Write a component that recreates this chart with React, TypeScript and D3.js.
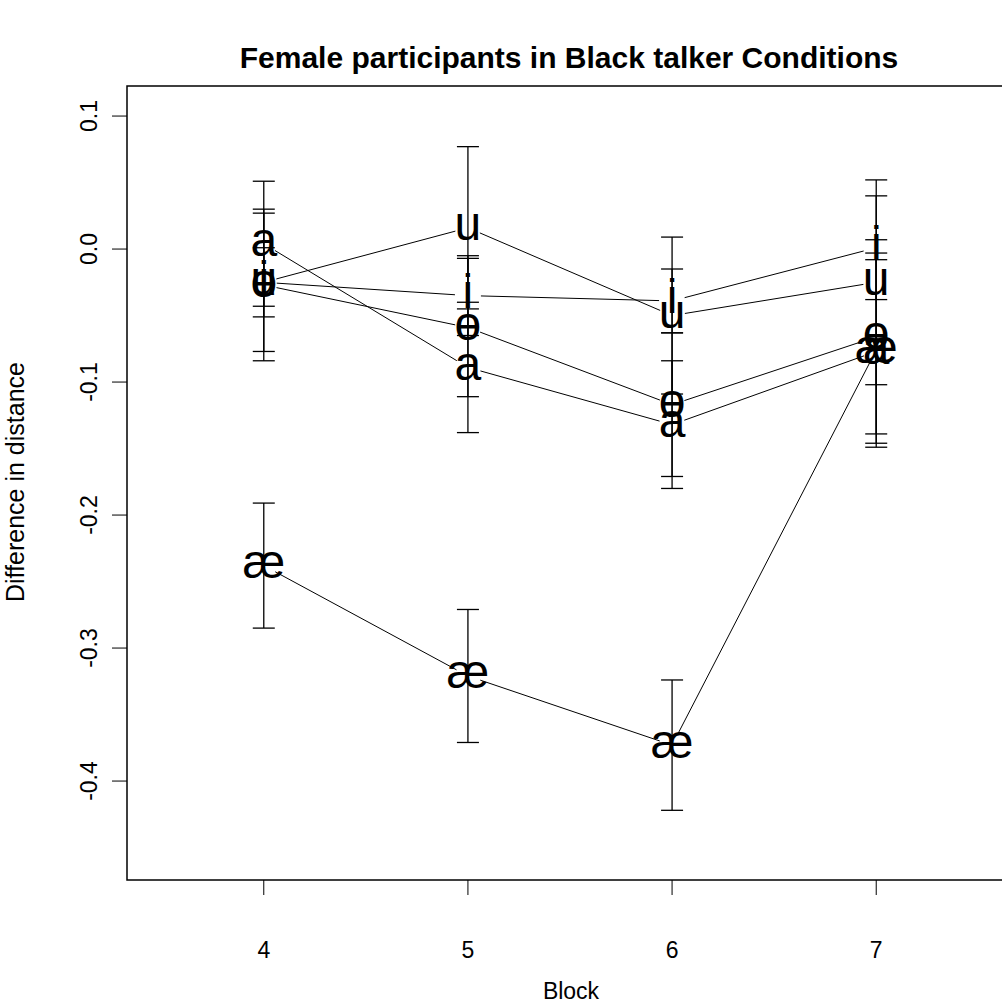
import * as d3 from "d3";
import React from "react";

// blocks on the x axis
const blocks = [4, 5, 6, 7];
const yTicks = [0.1, 0.0, -0.1, -0.2, -0.3, -0.4];

// mean difference per block, one array per vowel
const meanA = [0.004, -0.089, -0.132, -0.077];
const meanO = [-0.027, -0.059, -0.117, -0.066];
const meanI = [-0.025, -0.035, -0.039, 0.001];
const meanU = [-0.025, 0.016, -0.05, -0.025];
const meanAE = [-0.238, -0.321, -0.373, -0.076];

// standard error per block
const seA = [0.047, 0.049, 0.048, 0.069];
const seO = [0.057, 0.052, 0.054, 0.073];
const seI = [0.052, 0.03, 0.024, 0.039];
const seU = [0.026, 0.061, 0.059, 0.077];
const seAE = [0.047, 0.05, 0.049, 0.073];

const series = [
  { label: "a", mean: meanA, se: seA },
  { label: "ɵ", mean: meanO, se: seO },
  { label: "i", mean: meanI, se: seI },
  { label: "u", mean: meanU, se: seU },
  { label: "æ", mean: meanAE, se: seAE },
];

const W = 1002,
  H = 1003;
const plot = { left: 127, top: 86, right: 1013, bottom: 880 };
const font = "'Liberation Sans', Arial, sans-serif";

export default function App() {
  const x = d3.scaleLinear().domain([3.33, 7.67]).range([plot.left, plot.right]);
  const y = d3
    .scaleLinear()
    .domain([-0.4744, 0.1226])
    .range([plot.bottom, plot.top]);

  const gap = 13; // R type="b" leaves a gap round each point
  const capHalf = 11;
  const letterSize = 48;
  const fmt = (t: number) => d3.format(".1f")(t).replace("−", "-");

  return (
    <svg
      width={W}
      height={H}
      style={{ position: "absolute", left: 0, top: 0, background: "#fff" }}
      fontFamily={font}
    >
      <text x={569} y={68} textAnchor="middle" fontSize={30} fontWeight="bold">
        Female participants in Black talker Conditions
      </text>

      {/* connecting lines */}
      {series.map((s) =>
        s.mean.slice(1).map((m, i) => {
          const x1 = x(blocks[i]),
            y1 = y(s.mean[i]),
            x2 = x(blocks[i + 1]),
            y2 = y(m);
          const len = Math.hypot(x2 - x1, y2 - y1);
          const dx = ((x2 - x1) / len) * gap,
            dy = ((y2 - y1) / len) * gap;
          return (
            <line
              key={s.label + i}
              x1={x1 + dx}
              y1={y1 + dy}
              x2={x2 - dx}
              y2={y2 - dy}
              stroke="#000"
              strokeWidth={1}
            />
          );
        })
      )}

      {/* error bars */}
      {series.map((s) =>
        s.mean.map((m, i) => {
          const cx = x(blocks[i]);
          const top = y(m + s.se[i]),
            bot = y(m - s.se[i]);
          return (
            <g key={"e" + s.label + i} stroke="#000" strokeWidth={1.3}>
              <line x1={cx} x2={cx} y1={top} y2={bot} />
              <line x1={cx - capHalf} x2={cx + capHalf} y1={top} y2={top} />
              <line x1={cx - capHalf} x2={cx + capHalf} y1={bot} y2={bot} />
            </g>
          );
        })
      )}

      {/* vowel labels */}
      {series.map((s) =>
        s.mean.map((m, i) => (
          <text
            key={"t" + s.label + i}
            x={x(blocks[i])}
            y={y(m) + letterSize * 0.26}
            textAnchor="middle"
            fontSize={letterSize}
          >
            {s.label}
          </text>
        ))
      )}

      {/* frame */}
      <rect
        x={plot.left}
        y={plot.top}
        width={plot.right - plot.left}
        height={plot.bottom - plot.top}
        fill="none"
        stroke="#000"
        strokeWidth={1.5}
      />

      {/* x axis */}
      {blocks.map((b) => (
        <g key={"xt" + b}>
          <line x1={x(b)} x2={x(b)} y1={plot.bottom} y2={plot.bottom + 15} stroke="#000" />
          <text x={x(b)} y={958} textAnchor="middle" fontSize={23}>
            {b}
          </text>
        </g>
      ))}
      <text x={571} y={999} textAnchor="middle" fontSize={23}>
        Block
      </text>

      {/* y axis */}
      {yTicks.map((t) => (
        <g key={"yt" + t}>
          <line x1={plot.left - 15} x2={plot.left} y1={y(t)} y2={y(t)} stroke="#000" />
          <text
            transform={`translate(97, ${y(t)}) rotate(-90)`}
            textAnchor="middle"
            fontSize={23}
          >
            {fmt(t)}
          </text>
        </g>
      ))}
      <text
        transform={`translate(24, 482) rotate(-90)`}
        textAnchor="middle"
        fontSize={25}
      >
        Difference in distance
      </text>
    </svg>
  );
}
